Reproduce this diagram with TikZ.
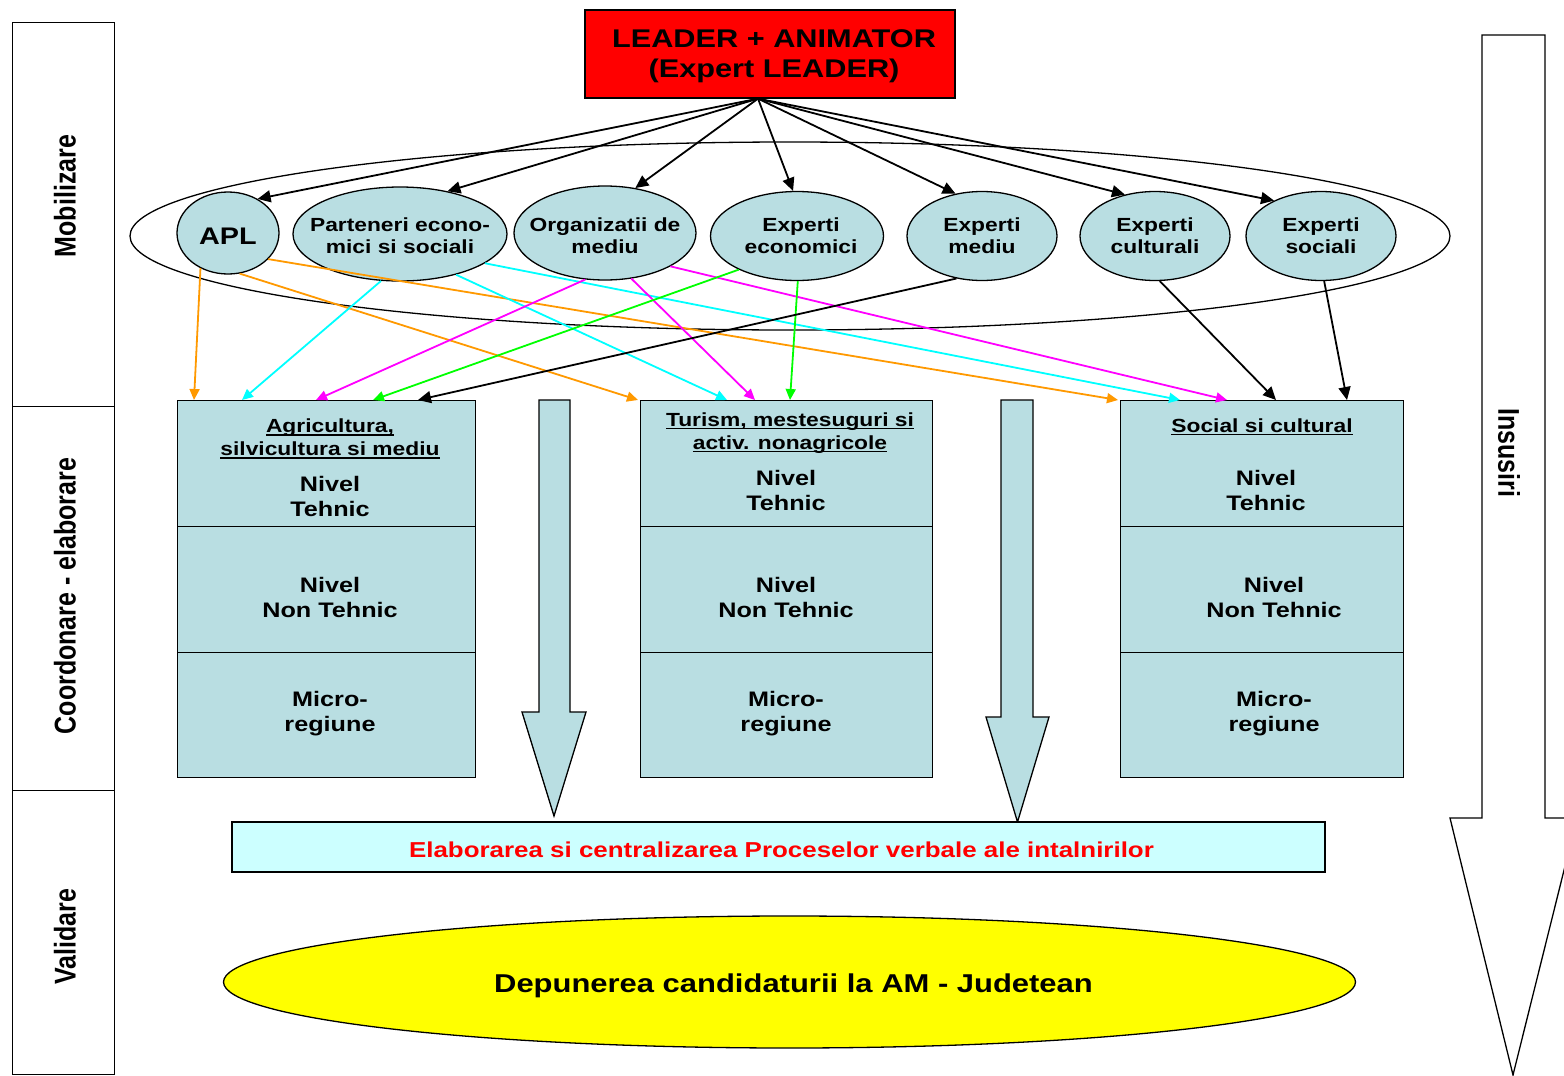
\documentclass[tikz,border=0pt]{standalone}
\usepackage{fontspec}
\setmainfont{Liberation Sans}[FakeStretch=1.2]
\newfontfamily\rotfont{Liberation Sans}[FakeStretch=0.833]
\usetikzlibrary{arrows.meta,shapes.geometric,calc}
\definecolor{lblue}{RGB}{185,222,226}
\definecolor{lcyan}{RGB}{204,255,255}
\definecolor{orng}{RGB}{255,153,0}
\definecolor{cyn}{RGB}{0,255,255}
\definecolor{mgn}{RGB}{255,0,255}
\definecolor{grn}{RGB}{0,255,0}
\definecolor{ylw}{RGB}{255,255,0}
\definecolor{rd}{RGB}{255,0,0}
\newcommand\fsz[2]{\fontsize{#1}{#2}\selectfont}
\newcommand\uln[1]{\setbox0\hbox{#1}\rlap{\rule[-3pt]{\wd0}{1.6pt}}\box0}
\begin{document}
\begin{tikzpicture}[x=1pt,y=-1pt,
  elp/.style={ellipse,draw=black,line width=1.3pt,fill=lblue,inner sep=0pt},
  eltxt/.style={align=center,inner sep=0pt,font=\fsz{19}{22}\bfseries},
  sect/.style={rectangle,draw=black,line width=1.3pt,fill=lblue,anchor=north west,inner sep=0pt},
  txt/.style={align=center,font=\fsz{21}{25}\bfseries,inner sep=0pt},
  hdr/.style={align=center,font=\fsz{19}{23}\bfseries,inner sep=0pt},
  blk/.style={draw=black,line width=1.8pt,-{Triangle[length=13pt,width=12pt]}},
  col/.style={line width=1.8pt,-{Triangle[length=11pt,width=10pt]}},
  side/.style={font=\rotfont\fsz{30}{34}\bfseries,inner sep=0pt},
  colbox/.style={rectangle,draw=black,line width=1.3pt,anchor=north west,inner sep=0pt,minimum width=102pt},
  blockarrow/.style={draw=black,line width=1.3pt,line join=miter}
]
\useasboundingbox (0,0) rectangle (1564,1076);
\clip (0,0) rectangle (1564,1076);
\fill[white] (0,0) rectangle (1564,1076);

% left column
\node[colbox,minimum height=384pt] (c1) at (12,22) {};
\node[colbox,minimum height=384pt] (c2) at (12,406) {};
\node[colbox,minimum height=284pt] (c3) at (12,790) {};
\node[side,rotate=90] (l1) at (65,196) {Mobilizare};
\node[side,rotate=90] (l2) at (65,596) {Coordonare - elaborare};
\node[side,rotate=90] (l3) at (65,937) {Validare};

% right big arrow
\draw[blockarrow,fill=white] (1482,35) -- (1545,35) -- (1545,818) -- (1577,818) -- (1513,1075) -- (1450,818) -- (1482,818) -- cycle;
\node[side,rotate=-90] (l4) at (1509,453) {Insusiri};

% leader box
\node[draw=black,line width=1.3pt,fill=rd,minimum width=370pt,minimum height=88pt,inner sep=0pt] (leader) at (770,54) {};
\node[align=center,inner sep=0pt,font=\fsz{25.6}{30}\bfseries] at (774,56.5) {LEADER + ANIMATOR\\(Expert LEADER)};
\coordinate (src) at ([xshift=-12pt]leader.south);

% group ellipse
\node[ellipse,draw=black,line width=1.3pt,minimum width=1320pt,minimum height=188pt,inner sep=0pt] (grp) at (790,236) {};

% actor ellipses
\node[elp,minimum width=102pt,minimum height=82pt] (apl) at (228,233) {};
\node[eltxt,font=\fsz{24}{28}\bfseries] at ([yshift=-3pt]apl.center) {APL};
\node[elp,minimum width=214pt,minimum height=94pt] (par) at (400,234) {};
\node[eltxt] at ([yshift=-2pt]par.center) {Parteneri econo-\\mici si sociali};
\node[elp,minimum width=182pt,minimum height=94pt] (org) at (605,233) {};
\node[eltxt] at ([yshift=-3pt]org.center) {Organizatii de\\mediu};
\node[elp,minimum width=173pt,minimum height=89pt] (ee) at (797,236) {};
\node[eltxt] at ([xshift=4pt]ee.center) {Experti\\economici};
\node[elp,minimum width=150pt,minimum height=89pt] (em) at (982,236) {};
\node[eltxt] at (em) {Experti\\mediu};
\node[elp,minimum width=150pt,minimum height=89pt] (ec) at (1155,236) {};
\node[eltxt] at (ec) {Experti\\culturali};
\node[elp,minimum width=150pt,minimum height=89pt] (es) at (1321,236) {};
\node[eltxt] at (es) {Experti\\sociali};

% boxes
\node[sect,minimum width=298pt,minimum height=126pt] (b1) at (177,400) {};
\node[sect,minimum width=298pt,minimum height=126pt] (b1m) at (177,526) {};
\node[sect,minimum width=298pt,minimum height=125pt] (b1b) at (177,652) {};
\node[sect,minimum width=292pt,minimum height=126pt] (b2) at (640,400) {};
\node[sect,minimum width=292pt,minimum height=126pt] (b2m) at (640,526) {};
\node[sect,minimum width=292pt,minimum height=125pt] (b2b) at (640,652) {};
\node[sect,minimum width=283pt,minimum height=126pt] (b3) at (1120,400) {};
\node[sect,minimum width=283pt,minimum height=126pt] (b3m) at (1120,526) {};
\node[sect,minimum width=283pt,minimum height=125pt] (b3b) at (1120,652) {};

\node[hdr] at (330,439) {\uln{Agricultura,}\\\uln{silvicultura si mediu}};
\node[txt] at (330,496) {Nivel\\Tehnic};
\node[txt] at (330,597) {Nivel\\Non Tehnic};
\node[txt] at (330,714) {Micro-\\regiune};

\node[hdr] at (790,433) {\uln{Turism, mestesuguri si}\\\uln{activ. nonagricole}};
\node[txt] at (786,490) {Nivel\\Tehnic};
\node[txt] at (786,597) {Nivel\\Non Tehnic};
\node[txt] at (786,714) {Micro-\\regiune};

\node[hdr] at (1262,427) {\uln{Social si cultural}};
\node[txt] at (1266,490) {Nivel\\Tehnic};
\node[txt] at (1274,597) {Nivel\\Non Tehnic};
\node[txt] at (1274,714) {Micro-\\regiune};

% block arrows between boxes
\draw[blockarrow,fill=lblue] (539,400) -- (570,400) -- (570,712) -- (586,712) -- (554,816) -- (522,712) -- (539,712) -- cycle;
\draw[blockarrow,fill=lblue] (1001,400) -- (1033,400) -- (1033,717) -- (1049,717) -- (1017.5,822) -- (986,717) -- (1001,717) -- cycle;

% banner
\node[draw=black,line width=1.3pt,fill=lcyan,minimum width=1093pt,minimum height=50pt,inner sep=0pt] (banner) at (778.5,847) {};
\node[inner sep=0pt,text=rd,font=\fsz{21.6}{25}\bfseries] at (781.5,850) {Elaborarea si centralizarea Proceselor verbale ale intalnirilor};

% yellow ellipse
\node[ellipse,draw=black,line width=1.3pt,fill=ylw,minimum width=1132pt,minimum height=132pt,inner sep=0pt] (dep) at (789.5,982) {};
\node[inner sep=0pt,font=\fsz{25.8}{30}\bfseries] at (793.5,986) {Depunerea candidaturii la AM - Judetean};

% black arrows from leader
\draw[blk] (src) -- (apl.49);
\draw[blk] (src) -- (par.42);
\draw[blk] (src) -- (org.56);
\draw[blk] (src) -- (ee.95);
\draw[blk] (src) -- (em.122);
\draw[blk] (src) -- (ec.126);
\draw[blk] (src) -- (es.143);

% coloured arrows
\draw[col,orng] (apl.232) -- ([xshift=17pt]b1.north west);
\draw[col,orng] (apl.286) -- ([xshift=-2pt]b2.north west);
\draw[col,orng] (apl.327) -- ([xshift=-2pt]b3.north west);
\draw[col,cyn] (par.248) -- ([xshift=65pt]b1.north west);
\draw[col,cyn] (par.324) -- ([xshift=87pt]b2.north west);
\draw[col,cyn] (par.341) -- ([xshift=60pt]b3.north west);
\draw[col,mgn] (org.247) -- ([xshift=139pt]b1.north west);
\draw[col,mgn] (org.300) -- ([xshift=115pt]b2.north west);
\draw[col,mgn] (org.333) -- ([xshift=107pt]b3.north west);
\draw[col,grn] (ee.210) -- ([xshift=196pt]b1.north west);
\draw[col,grn] (ee.271) -- ([xshift=150pt]b2.north west);
\draw[blk] (em.239) -- ([xshift=241pt]b1.north west);
\draw[blk] (ec.276) -- ([xshift=156pt]b3.north west);
\draw[blk] (es.274) -- ([xshift=227pt]b3.north west);
\end{tikzpicture}
\end{document}
